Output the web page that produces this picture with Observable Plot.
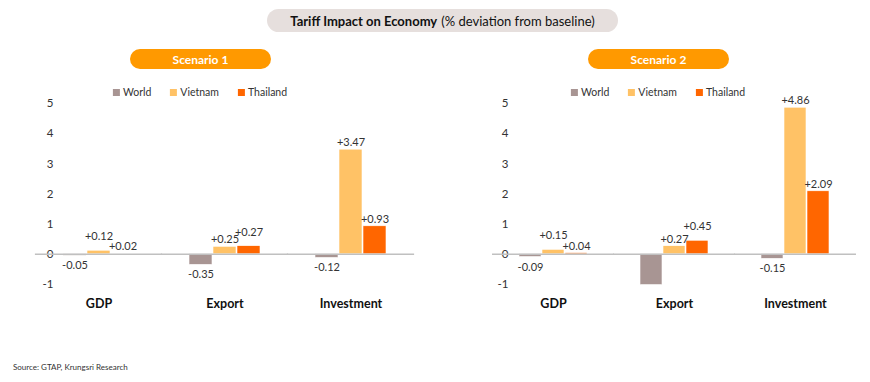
<!DOCTYPE html>
<html>
<head>
<meta charset="utf-8">
<script src="https://cdn.jsdelivr.net/npm/d3@7"></script>
<script src="https://cdn.jsdelivr.net/npm/@observablehq/plot@0.6"></script>
<style>
  html, body { margin: 0; padding: 0; background: #fff; }
  body { font-family: Lato, "Open Sans", sans-serif; color: #333; }
  #wrap { position: relative; width: 870px; height: 382px; overflow: hidden; }
  .pill { position: absolute; display: flex; align-items: center; justify-content: center; white-space: nowrap; }
  #title { left: 267px; top: 9px; width: 351px; height: 23px; border-radius: 12px; background: #e6dfdd; font-size: 13px; color: #111; }
  #title b { font-weight: 700; margin-right: 4px; }
  .scen { top: 49px; height: 20px; width: 141px; border-radius: 10px; background: #ff9900; color: #fff; font-weight: 700; font-size: 12px; }
  .legend { position: absolute; top: 86px; transform: translateX(-50%); display: flex; gap: 19px; font-size: 10.5px; color: #333; white-space: nowrap; }
  .legend span.item { display: flex; align-items: center; gap: 3px; }
  .legend span.sw { display: inline-block; width: 7px; height: 7px; }
  .chart { position: absolute; top: 95px; }
  .chart g[aria-label^="fx-axis"] text { font-weight: 700; font-size: 12.5px; fill: #111; }
  .chart g[aria-label^="y-axis"] text { font-size: 11.5px; }
  #source { position: absolute; left: 13px; top: 362px; font-size: 8px; color: #333; }
</style>
</head>
<body>
<div id="wrap">
  <div id="title" class="pill"><b>Tariff Impact on Economy</b> (% deviation from baseline)</div>
  <div id="s1" class="pill scen" style="left:130px">Scenario 1</div>
  <div id="s2" class="pill scen" style="left:588px">Scenario 2</div>
  <div id="leg1" class="legend" style="left:200px"></div>
  <div id="leg2" class="legend" style="left:658px"></div>
  <div id="c1" class="chart" style="left:0px"></div>
  <div id="c2" class="chart" style="left:435px"></div>
  <div id="source">Source: GTAP, Krungsri Research</div>
</div>
<script>
// ---- data ----
const categories = ["GDP", "Export", "Investment"];
const series = ["World", "Vietnam", "Thailand"];
const colors = ["#a89593", "#ffc266", "#ff6600"];
const yTicks = [-1, 0, 1, 2, 3, 4, 5];

const s1World    = [-0.05, -0.35, -0.12];
const s1Vietnam  = [ 0.12,  0.25,  3.47];
const s1Thailand = [ 0.02,  0.27,  0.93];

const s2World    = [-0.09, -1.02, -0.15];
const s2Vietnam  = [ 0.15,  0.27,  4.86];
const s2Thailand = [ 0.04,  0.45,  2.09];
// labels not shown in the reference
const s2WorldShowLabel = [true, false, true];

function rows(world, vietnam, thailand, worldShow) {
  const out = [];
  categories.forEach((c, i) => {
    const v = vietnam[i], t = thailand[i];
    // when two neighbouring positive labels sit at similar heights, lift the taller one
    const close = v > 0 && t > 0 && Math.abs(v - t) < 0.5;
    out.push({cat: c, series: "World", value: world[i], show: worldShow ? worldShow[i] : true, lift: false});
    out.push({cat: c, series: "Vietnam", value: v, show: true, lift: close && v >= t});
    out.push({cat: c, series: "Thailand", value: t, show: true, lift: close && t > v});
  });
  return out;
}
const fmt = v => (v > 0 ? "+" : "") + v.toFixed(2);

const W = 435, padIn = 0.42, padOut = 0.21;

function chart(data, marginLeft, marginRight, tickPad) {
  const plotW = W - marginLeft - marginRight;
  const step = plotW / (categories.length - padIn + 2 * padOut);
  const ext = -(padOut * step + 0.5); // extend zero line across facet gaps
  const txt = {fx: "cat", x: "series", y: "value", text: d => fmt(d.value), fill: "#333", fontSize: 11};
  return Plot.plot({
    width: W, height: 225,
    marginLeft, marginRight, marginTop: 8, marginBottom: 36,
    style: {fontFamily: "Lato, 'Open Sans', sans-serif", fontSize: "12px", color: "#333", background: "transparent", overflow: "visible"},
    fx: {domain: categories, paddingInner: padIn, paddingOuter: padOut, label: null, tickSize: 0, tickPadding: 15, axis: "bottom"},
    x: {domain: series, padding: 0.03, axis: null},
    y: {domain: [-1, 5], ticks: yTicks, tickSize: 0, tickPadding: tickPad, label: null, tickFormat: d => String(d)},
    color: {domain: series, range: colors},
    marks: [
      Plot.barY(data, {fx: "cat", x: "series", y: "value", fill: "series", stroke: "#fff", strokeWidth: 0.6}),
      Plot.ruleY([0], {stroke: "#c0c0c0", strokeWidth: 1.5, insetLeft: ext, insetRight: ext}),
      Plot.text(data.filter(d => d.show && d.value >= 0 && !d.lift), {...txt, dy: -7}),
      Plot.text(data.filter(d => d.show && d.value >= 0 && d.lift), {...txt, dy: -14}),
      Plot.text(data.filter(d => d.show && d.value < 0), {...txt, dy: 10})
    ]
  });
}

document.getElementById("c1").append(chart(rows(s1World, s1Vietnam, s1Thailand), 35, 20, 9));
document.getElementById("c2").append(chart(rows(s2World, s2Vietnam, s2Thailand, s2WorldShowLabel), 57, 14, 10));

for (const id of ["leg1", "leg2"]) {
  const el = document.getElementById(id);
  series.forEach((s, i) => {
    const item = document.createElement("span");
    item.className = "item";
    item.innerHTML = `<span class="sw" style="background:${colors[i]}"></span>${s}`;
    el.append(item);
  });
}
</script>
</body>
</html>
